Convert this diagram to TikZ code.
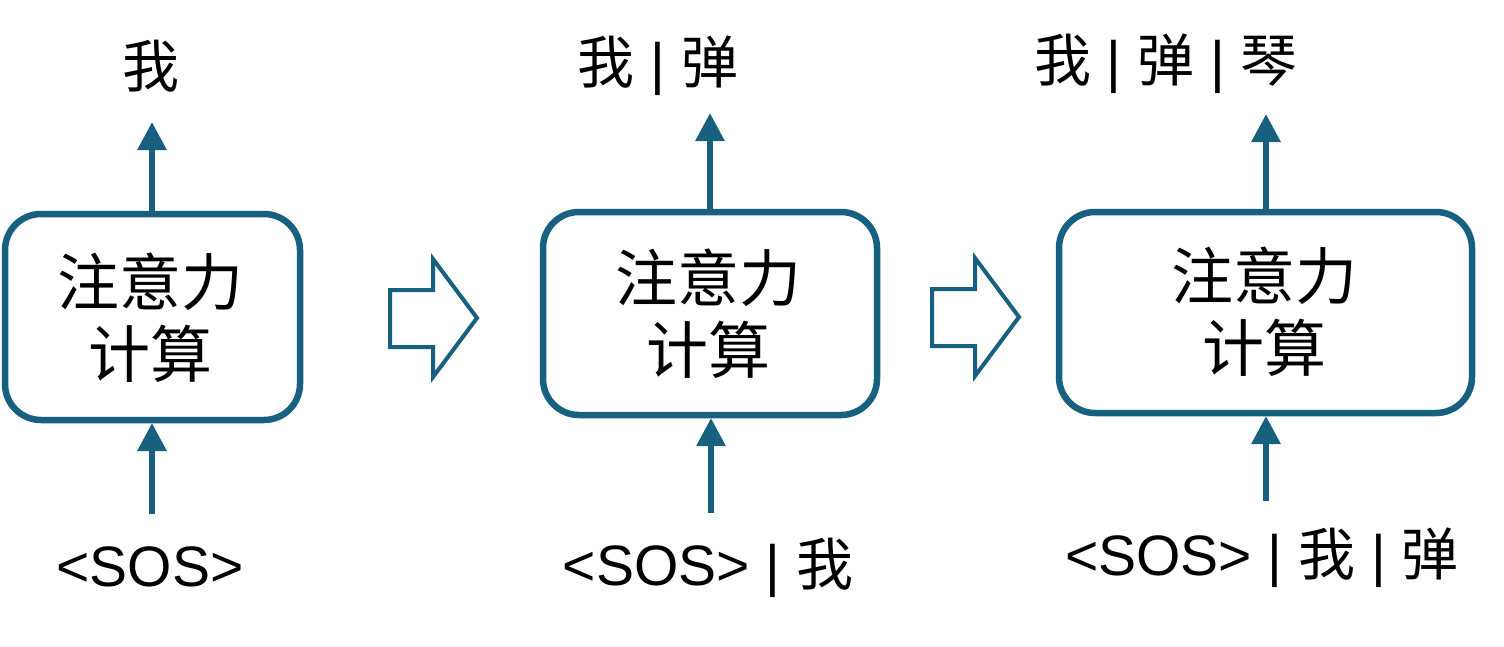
\documentclass[tikz,border=0pt]{standalone}
\usepackage{fontspec}
\setmainfont{Liberation Sans}
\newfontfamily\cjk{Noto Sans CJK SC}
\usetikzlibrary{arrows.meta}
\definecolor{tealblue}{RGB}{23,96,128}
\tikzset{
  attbox/.style={draw=tealblue, line width=6.5pt, rounded corners=36pt, fill=white},
  flow/.style={draw=tealblue, line width=6pt, -{Triangle[width=28pt,length=28pt]}},
  blockarrow/.style={draw=tealblue, line width=4pt, line join=miter, fill=white},
  boxtext/.style={font=\cjk\fontsize{62}{72}\selectfont, align=center, text=black},
  lbl/.style={font=\fontsize{57}{60}\selectfont, text=black, inner sep=0pt, anchor=center}
}
\begin{document}
\begin{tikzpicture}[x=1pt,y=-1pt]
\useasboundingbox (0,0) rectangle (1504,646);
% boxes
\draw[attbox] (5,214) rectangle (300,420);
\draw[attbox] (543,212) rectangle (877,415);
\draw[attbox] (1059,212) rectangle (1472,413);
\node[boxtext] (b1) at (150,318) {注意力\\计算};
\node[boxtext] (b2) at (708,314) {注意力\\计算};
\node[boxtext] (b3) at (1264,312) {注意力\\计算};
% coordinates
\coordinate (b1t) at (152,211);
\coordinate (b1tt) at (152,122);
\coordinate (b1b) at (152,423);
\coordinate (b1bb) at (152,514);
\coordinate (b2t) at (710,209);
\coordinate (b2tt) at (710,113);
\coordinate (b2b) at (711,418);
\coordinate (b2bb) at (711,513);
\coordinate (b3t) at (1266,209);
\coordinate (b3tt) at (1266,114);
\coordinate (b3b) at (1266,416);
\coordinate (b3bb) at (1266,501);
\draw[flow] (b1t) -- (b1tt);
\draw[flow] (b1bb) -- (b1b);
\draw[flow] (b2t) -- (b2tt);
\draw[flow] (b2bb) -- (b2b);
\draw[flow] (b3t) -- (b3tt);
\draw[flow] (b3bb) -- (b3b);
% labels
\node[lbl] (t1) at (151,66) {\cjk 我};
\node[lbl] (t2) at (658,66) {{\cjk 我} | {\cjk 弹}};
\node[lbl] (t3) at (1166,64) {{\cjk 我} | {\cjk 弹} | {\cjk 琴}};
\node[lbl] (s1) at (150,567) {<SOS>};
\node[lbl] (s2) at (708,568) {<SOS> | {\cjk 我}};
\node[lbl] (s3) at (1262,558) {<SOS> | {\cjk 我} | {\cjk 弹}};
% block arrows
\draw[blockarrow] (390,290) -- (433,290) -- (433,259) -- (477,318) -- (433,377) -- (433,347) -- (390,347) -- cycle;
\draw[blockarrow] (932,289) -- (975,289) -- (975,258) -- (1019,317) -- (975,376) -- (975,346) -- (932,346) -- cycle;
\end{tikzpicture}
\end{document}
